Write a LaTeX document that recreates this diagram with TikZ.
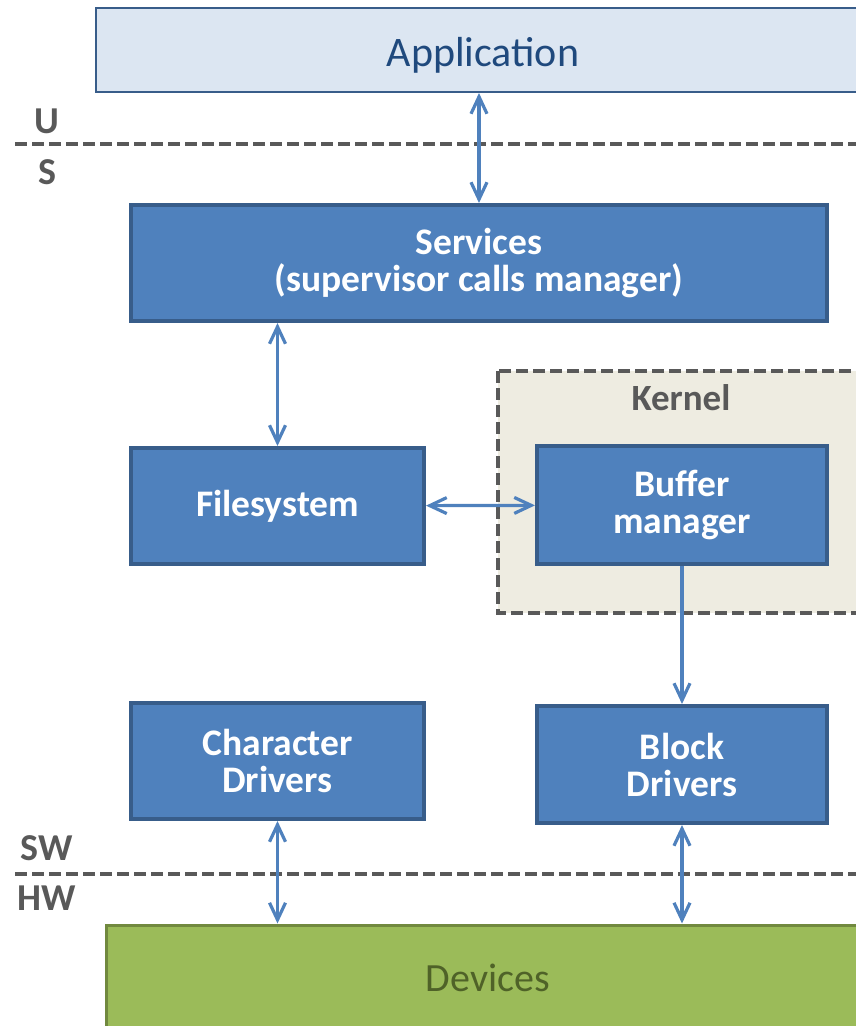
\documentclass[tikz,border=0pt]{standalone}
\usepackage{fontspec}
\setmainfont{Carlito}
\usetikzlibrary{arrows.meta}
\definecolor{BoxBlue}{HTML}{4F81BD}
\definecolor{EdgeBlue}{HTML}{385D8A}
\definecolor{PaleBlue}{HTML}{DCE6F2}
\definecolor{NavyText}{HTML}{1F497D}
\definecolor{Olive}{HTML}{9BBB59}
\definecolor{OliveEdge}{HTML}{71893F}
\definecolor{OliveText}{HTML}{4F6228}
\definecolor{Sand}{HTML}{EEECE1}
\definecolor{Slate}{HTML}{595959}
\tikzset{
  layer/.style={draw=EdgeBlue,line width=4pt,fill=BoxBlue,text=white,align=center,inner sep=0pt,font=\fontsize{37.5}{37}\selectfont\bfseries},
  tag/.style={text=Slate,font=\fontsize{38}{38}\selectfont\bfseries},
  sepline/.style={draw=Slate,line width=4.5pt,dash pattern=on 12pt off 5pt},
  link/.style={draw=BoxBlue,line width=3.2pt,{Straight Barb[length=17pt,width=16pt]}-{Straight Barb[length=17pt,width=16pt]}}
}
\begin{document}
\begin{tikzpicture}[x=1pt,y=-1pt]
  \useasboundingbox (0,0) rectangle (856,1026);
  % user / supervisor and software / hardware split
  \draw[sepline] (15,144) -- (856,144);
  \draw[sepline] (15,874) -- (856,874);
  \node[tag] (user) at (47,121) {U};
  \node[tag] (sup) at (47,172) {S};
  \node[tag] (sw) at (47,848) {SW};
  \node[tag] (hw) at (47,898) {HW};
  % kernel area
  \draw[sepline,fill=Sand] (498,371) rectangle (900,613);
  \node[text=Slate,font=\fontsize{37}{37}\selectfont\bfseries] (kernel) at (681,398) {Kernel};
  \node[draw=EdgeBlue,line width=2pt,fill=PaleBlue,text=NavyText,minimum width=774pt,minimum height=84pt,text height=32pt,text depth=0pt,font=\fontsize{42}{42}\selectfont] (app) at (483,50) {Application};
  \node[layer,minimum width=696pt,minimum height=116pt] (svc) at (479,263) {Services\\(supervisor calls manager)};
  \node[layer,minimum width=293pt,minimum height=116pt] (fs) at (277.5,506) {Filesystem};
  \node[layer,minimum width=290pt,minimum height=118pt] (buf) at (682,505) {Buffer\\manager};
  \node[layer,minimum width=293pt,minimum height=116pt] (chr) at (277.5,761) {Character\\Drivers};
  \node[layer,minimum width=290pt,minimum height=117pt] (blk) at (682,764.5) {Block\\Drivers};
  \node[draw=OliveEdge,line width=3pt,fill=Olive,text=OliveText,minimum width=764pt,minimum height=106pt,font=\fontsize{40}{40}\selectfont] (dev) at (488,978) {Devices};
  \draw[link] (app.south -| svc) -- (svc);
  \draw[link] (svc.south -| fs) -- (fs);
  \draw[link] (fs) -- (buf);
  \draw[link,-{Straight Barb[length=17pt,width=16pt]}] (buf) -- (blk);
  \draw[link] (chr) -- (chr |- dev.north);
  \draw[link] (blk) -- (blk |- dev.north);
\end{tikzpicture}
\end{document}
